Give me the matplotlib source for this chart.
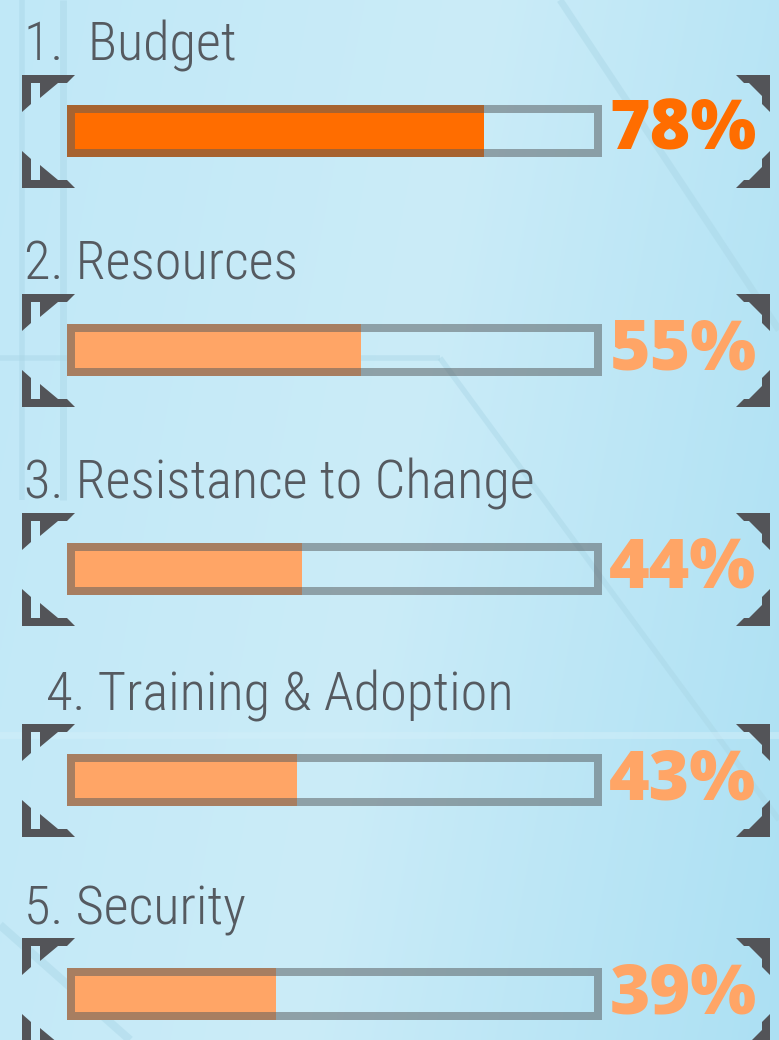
import numpy as np
import matplotlib.pyplot as plt
from matplotlib import font_manager
from matplotlib.patches import Rectangle, Polygon

# data
labels = ['1.  Budget', '2. Resources', '3. Resistance to Change',
          '4. Training & Adoption', '5. Security']
values = [78, 55, 44, 43, 39]
bar_colors = ['#ff6d00', '#ffa566', '#ffa566', '#ffa566', '#ffa566']

# layout (pixels)
row_y = [131, 350, 569, 780, 994]
label_x = [24, 24, 24, 46, 24]
bar_x0, bar_w, bar_h = 67, 535, 52


def _w(e):
    w = e.weight
    if isinstance(w, str):
        return {'light': 300, 'extra light': 200, 'ultralight': 200,
                'thin': 100}.get(w.lower(), 400)
    return int(w)


# pick a narrow / light face if there is one
entries = font_manager.fontManager.ttflist
names = {f.name for f in entries}
label_font, label_weight = 'Open Sans', 'normal'
for cand in ['Liberation Sans Narrow', 'Roboto Condensed', 'Open Sans Condensed']:
    if cand in names:
        label_font = cand
        break
light = [f for f in entries if f.name == label_font and _w(f) <= 300]
if light:
    label_weight = 'light'

fig = plt.figure(figsize=(7.79, 10.40), dpi=100)
ax = fig.add_axes([0, 0, 1, 1])
ax.set_xlim(0, 779)
ax.set_ylim(1040, 0)
ax.axis('off')

# size labels so the longest one is about 511 px wide
renderer = fig.canvas.get_renderer()
probe = ax.text(0, 0, labels[2], fontsize=40, family=[label_font, 'DejaVu Sans'],
                fontweight=label_weight)
pw = probe.get_window_extent(renderer).width
probe.remove()
label_size = min(41, 40 * 511 / pw)

# background gradient
gx = np.linspace(0, 1, 400)
gy = np.linspace(0, 1, 400)
X, Y = np.meshgrid(gx, gy)
c_left = np.array([192, 232, 247]) / 255
c_mid = np.array([203, 236, 248]) / 255
c_right = np.array([172, 224, 243]) / 255
t = np.clip(X * 0.8 + Y * 0.2, 0, 1)
w1 = np.clip(1 - np.abs(t - 0.5) * 2, 0, 1)[..., None]
side = np.where((t < 0.5)[..., None], c_left, c_right)
img = side * (1 - w1) + c_mid * w1
ax.imshow(img, extent=[0, 779, 1040, 0], aspect='auto', zorder=0)

# faint decorative lines
deco = dict(color='#a9d6e6', alpha=0.45, zorder=1, solid_capstyle='butt')
ax.plot([22, 22], [0, 500], lw=4, **deco)
ax.plot([63, 63], [0, 500], lw=5, **deco)
ax.plot([0, 440], [358, 358], lw=4, **deco)
ax.plot([440, 779], [358, 820], lw=4, **deco)
ax.plot([0, 130], [925, 1040], lw=6, **deco)
ax.plot([560, 779], [0, 330], lw=5, **deco)
ax.plot([0, 779], [735, 735], lw=5, color='#d2eff9', alpha=0.5, zorder=1)

bracket_c = '#535458'
frame_c = (0.34, 0.357, 0.369, 0.52)


def brackets(cy):
    top = cy - 56
    bot = cy + 57

    def flip(pts):
        return [(x, bot - (y - top)) for x, y in pts]

    left_l = [(22, top), (75, top), (67, top + 8), (31, top + 8),
              (31, top + 29), (22, top + 37)]
    left_t = [(40, top + 8), (58, top + 8), (40, top + 23)]
    right_l = [(770, top), (736, top), (744, top + 8), (762, top + 8),
               (762, top + 29), (770, top + 37)]
    right_t = [(762, top + 8), (749, top + 8), (762, top + 21)]
    for pts in [left_l, left_t, right_l, right_t]:
        ax.add_patch(Polygon(pts, closed=True, fc=bracket_c, ec='none', zorder=3))
        ax.add_patch(Polygon(flip(pts), closed=True, fc=bracket_c, ec='none', zorder=3))


for lab, val, col, cy, lx in zip(labels, values, bar_colors, row_y, label_x):
    # label
    ax.text(lx, cy - 70, lab, fontsize=label_size, family=[label_font, 'DejaVu Sans'],
            fontweight=label_weight, color='#555a60', ha='left', va='baseline',
            zorder=4)
    # filled part
    ax.add_patch(Rectangle((bar_x0, cy - bar_h / 2), bar_w * val / 100, bar_h,
                           fc=col, ec='none', zorder=2))
    # frame
    ax.add_patch(Rectangle((bar_x0 + 4, cy - bar_h / 2 + 4), bar_w - 8, bar_h - 8,
                           fc='none', ec=frame_c, lw=8 * 0.72, joinstyle='miter',
                           zorder=3))
    # percentage
    ax.text(683, cy + 1, f'{val}%', fontsize=50, family=['Open Sans', 'DejaVu Sans'],
            fontweight='heavy', color=col, ha='center', va='center', zorder=4)
    brackets(cy)

fig.savefig('out.png', dpi=100)
